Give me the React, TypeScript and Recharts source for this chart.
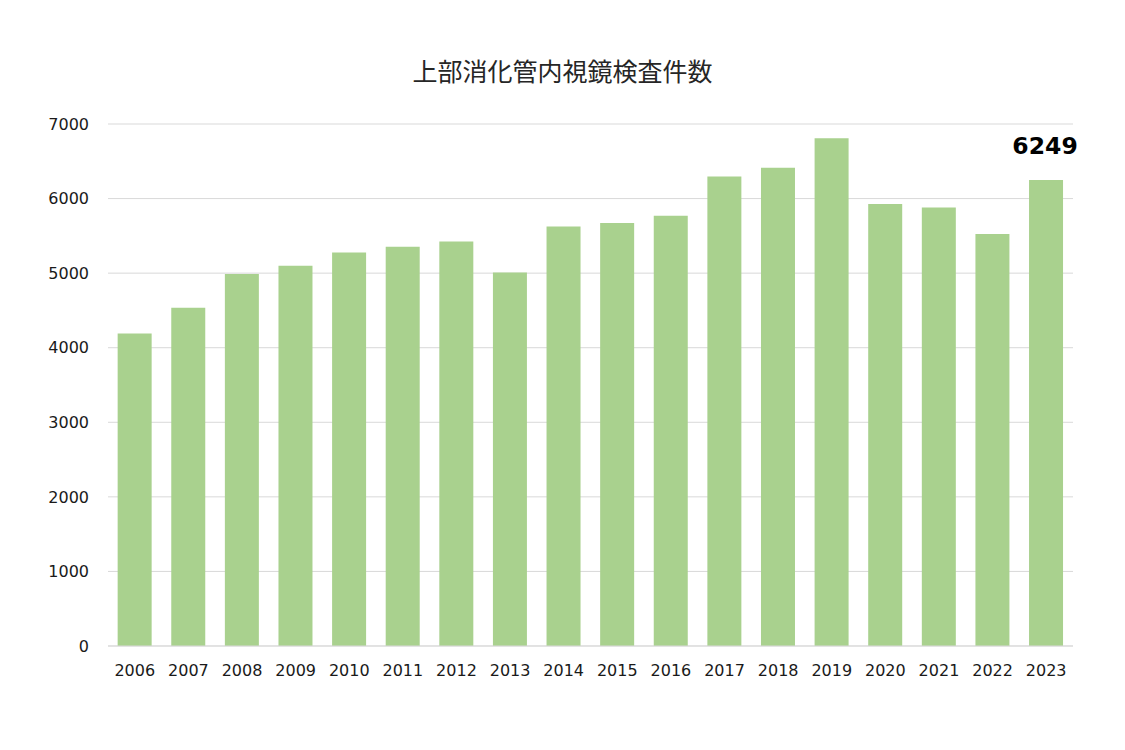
import React from 'react';
import { BarChart, Bar, XAxis, YAxis, CartesianGrid, LabelList } from 'recharts';

const years = [
  '2006', '2007', '2008', '2009', '2010', '2011', '2012', '2013', '2014',
  '2015', '2016', '2017', '2018', '2019', '2020', '2021', '2022', '2023',
];
const counts = [
  4190, 4535, 4990, 5100, 5278, 5355, 5426, 5007, 5627,
  5672, 5770, 6296, 6412, 6810, 5926, 5881, 5525, 6249,
];
const yTicks = [0, 1000, 2000, 3000, 4000, 5000, 6000, 7000];
const highlightIndex = 17;

const data = years.map((year, i) => ({ year, value: counts[i] }));

const tickFont = { fontFamily: '"DejaVu Sans", Verdana, sans-serif', fontSize: 16, fill: '#1a1a1a' };

const LastLabel = (props: any) => {
  const { x, width, index, value } = props;
  if (index !== highlightIndex) return null;
  return (
    <text
      x={x + width / 2 - 1}
      y={154}
      textAnchor="middle"
      style={{ fontFamily: '"DejaVu Sans", Verdana, sans-serif', fontSize: 23.5, fontWeight: 'bold', fill: '#000' }}
    >
      {value}
    </text>
  );
};

export default function App() {
  return (
    <div style={{ position: 'absolute', left: 0, top: 0, width: 1125, height: 750, background: '#fff' }}>
      <div
        style={{
          position: 'absolute',
          top: 54,
          left: 0,
          width: 1125,
          textAlign: 'center',
          fontFamily: '"Noto Sans CJK JP", sans-serif',
          fontSize: 25,
          color: '#262626',
          lineHeight: '32px',
        }}
      >
        上部消化管内視鏡検査件数
      </div>
      <BarChart
        width={1125}
        height={750}
        data={data}
        margin={{ top: 124, right: 52, bottom: 74, left: 0 }}
        barCategoryGap="18%"
      >
        <CartesianGrid vertical={false} stroke="#d9d9d9" />
        <XAxis
          dataKey="year"
          axisLine={{ stroke: '#d9d9d9' }}
          tickLine={false}
          tickMargin={13}
          tick={tickFont}
          interval={0}
        />
        <YAxis
          width={108}
          domain={[0, 7000]}
          ticks={yTicks}
          axisLine={false}
          tickLine={false}
          tickMargin={13}
          tick={tickFont}
        />
        <Bar dataKey="value" fill="#a9d18e" isAnimationActive={false}>
          <LabelList dataKey="value" content={<LastLabel />} />
        </Bar>
      </BarChart>
    </div>
  );
}
